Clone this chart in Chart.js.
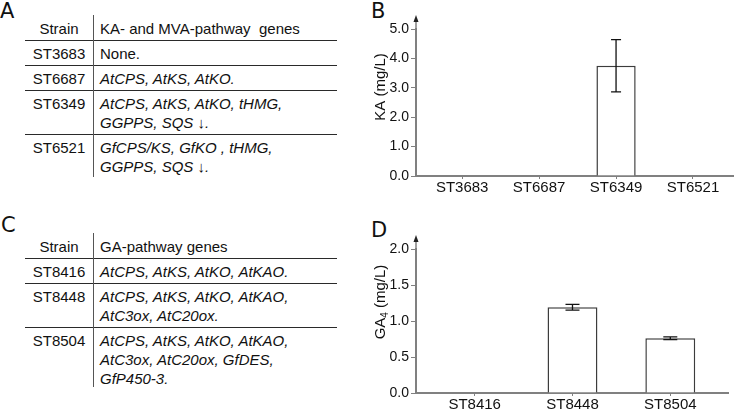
<!DOCTYPE html>
<html>
<head>
<meta charset="utf-8">
<script src="https://cdn.jsdelivr.net/npm/chart.js@4.4.1/dist/chart.umd.min.js"></script>
<style>
  html, body { margin: 0; padding: 0; background: #fff; }
  body {
    width: 740px; height: 411px; position: relative; overflow: hidden;
    font-family: "Liberation Sans", Arial, sans-serif; color: #111;
  }
  .panel-letter { position: absolute; font-family: "DejaVu Sans", sans-serif; font-size: 21px; line-height: 1; }
  .gene-table { position: absolute; left: 25px; width: 312px; font-size: 15px; line-height: 19px; }
  .gene-table .row { display: flex; box-sizing: border-box; border-top: 1px solid #2a2a2a; }
  .gene-table .row.head { border-top: none; }
  .gene-table .strain { width: 68px; flex: none; text-align: center; padding-top: 3px; }
  .gene-table .genes { padding-left: 7px; padding-top: 3px; font-style: italic; white-space: nowrap; }
  .gene-table .head .strain, .gene-table .head .genes { padding-top: 4px; font-style: normal; }
  .gene-table .plain { font-style: normal; }
  .gene-table .divider { position: absolute; left: 68px; top: 0; width: 1px; background: #555; }
  .chart-box { position: absolute; left: 370px; width: 370px; }
</style>
</head>
<body>
<div class="panel-letter" style="left:0px;top:1px">A</div>
<div class="panel-letter" style="left:371px;top:1px">B</div>
<div class="panel-letter" style="left:1px;top:215px">C</div>
<div class="panel-letter" style="left:371px;top:220px">D</div>

<div id="tableA" class="gene-table" style="top:15px"></div>
<div id="tableC" class="gene-table" style="top:233px"></div>

<div class="chart-box" style="top:0px;height:205px"><canvas id="chartB" width="370" height="205"></canvas></div>
<div class="chart-box" style="top:205px;height:206px"><canvas id="chartD" width="370" height="206"></canvas></div>

<script>
// --- panels A and C: strains and their genes ---
const kaStrains = ["ST3683", "ST6687", "ST6349", "ST6521"];
const kaHeader = ["Strain", "KA- and MVA-pathway\u00a0 genes"];
const kaGenes = [
  ["None."],
  ["AtCPS, AtKS, AtKO."],
  ["AtCPS, AtKS, AtKO, tHMG,", "GGPPS, SQS \u2193."],
  ["GfCPS/KS, GfKO , tHMG,", "GGPPS, SQS \u2193."],
];

const gaStrains = ["ST8416", "ST8448", "ST8504"];
const gaHeader = ["Strain", "GA-pathway genes"];
const gaGenes = [
  ["AtCPS, AtKS, AtKO, AtKAO."],
  ["AtCPS, AtKS, AtKO, AtKAO,", "AtC3ox, AtC20ox."],
  ["AtCPS, AtKS, AtKO, AtKAO,", "AtC3ox, AtC20ox, GfDES,", "GfP450-3."],
];

// --- panels B and D: titres (mg/L) with +/- error ---
const kaValues = [0, 0, 3.75, 0];
const kaErrors = [0, 0, 0.89, 0];
const kaYTicks = [0, 1, 2, 3, 4, 5];

const gaValues = [0, 1.19, 0.76];
const gaErrors = [0, 0.04, 0.02];
const gaYTicks = [0, 0.5, 1, 1.5, 2];

// [text, isSubscript]
const kaTitle = [["KA (mg/L)", false]];
const gaTitle = [["GA", false], ["4", true], [" (mg/L)", false]];

const AXIS_GRAY = "#808080";
const FONT = "'Liberation Sans', Arial, sans-serif";

function renderLine(line) {
  if (line === "None.") return `<span class="plain">${line}</span>`;
  return line.replace("\u2193", '<span class="plain">\u2193</span>');
}

function buildTable(el, header, strains, genes, dividerHeight) {
  let html = `<div class="row head" style="height:25px"><div class="strain">${header[0]}</div><div class="genes">${header[1]}</div></div>`;
  strains.forEach((strain, i) => {
    const lines = genes[i];
    const height = 6 + 19 * lines.length;
    html += `<div class="row" style="height:${height}px"><div class="strain">${strain}</div><div class="genes">${lines.map(renderLine).join("<br>")}</div></div>`;
  });
  html += `<div class="divider" style="height:${dividerHeight}px"></div>`;
  el.innerHTML = html;
}

buildTable(document.getElementById("tableA"), kaHeader, kaStrains, kaGenes, 162);
buildTable(document.getElementById("tableC"), gaHeader, gaStrains, gaGenes, 154);

// error bars drawn over each bar
function errorBars(errors, cap) {
  return {
    id: "errorBars",
    afterDatasetsDraw(chart) {
      const { ctx } = chart;
      const y = chart.scales.y;
      const meta = chart.getDatasetMeta(0);
      const data = chart.data.datasets[0].data;
      ctx.save();
      ctx.strokeStyle = "#111";
      ctx.lineWidth = 1.3;
      errors.forEach((err, i) => {
        if (!err) return;
        const x = meta.data[i].x;
        const top = y.getPixelForValue(data[i].y + err);
        const bottom = y.getPixelForValue(data[i].y - err);
        ctx.beginPath();
        ctx.moveTo(x, top);
        ctx.lineTo(x, bottom);
        ctx.moveTo(x - cap / 2, top);
        ctx.lineTo(x + cap / 2, top);
        ctx.moveTo(x - cap / 2, bottom);
        ctx.lineTo(x + cap / 2, bottom);
        ctx.stroke();
      });
      ctx.restore();
    },
  };
}

// arrow on top of the y axis + rotated y title (supports a subscript part)
function axisDecor(titleParts, titleX, titleY) {
  return {
    id: "axisDecor",
    afterDraw(chart) {
      const { ctx, chartArea } = chart;
      const x = chartArea.left;
      const tip = chartArea.top - 14;
      ctx.save();
      ctx.strokeStyle = AXIS_GRAY;
      ctx.lineWidth = 1.5;
      ctx.beginPath();
      ctx.moveTo(x, chartArea.top);
      ctx.lineTo(x, tip + 4);
      ctx.stroke();
      ctx.fillStyle = "#222";
      ctx.beginPath();
      ctx.moveTo(x, tip);
      ctx.lineTo(x - 2.5, tip + 7);
      ctx.lineTo(x + 2.5, tip + 7);
      ctx.closePath();
      ctx.fill();

      ctx.translate(titleX, titleY);
      ctx.rotate(-Math.PI / 2);
      ctx.fillStyle = "#111";
      ctx.textBaseline = "middle";
      const fontFor = (sub) => `${sub ? 10 : 15}px ${FONT}`;
      let total = 0;
      titleParts.forEach(([text, sub]) => {
        ctx.font = fontFor(sub);
        total += ctx.measureText(text).width;
      });
      let cx = -total / 2;
      titleParts.forEach(([text, sub]) => {
        ctx.font = fontFor(sub);
        ctx.fillText(text, cx, sub ? 4 : 0);
        cx += ctx.measureText(text).width;
      });
      ctx.restore();
    },
  };
}

function createBarChart(canvas, { labels, values, errors, yTicks, xMax, yMax, cap, title, titleX, titleY, padTop, padRight, xHeight }) {
  return new Chart(canvas, {
    type: "bar",
    data: {
      datasets: [{
        data: values.map((v, i) => ({ x: i, y: v })),
        backgroundColor: "#fff",
        borderColor: "#3c3c3c",
        borderWidth: 1.5,
        categoryPercentage: 1,
        barPercentage: 0.51,
      }],
    },
    options: {
      responsive: false,
      animation: false,
      layout: { padding: { top: padTop, right: padRight, left: 0, bottom: 0 } },
      plugins: { legend: { display: false }, tooltip: { enabled: false } },
      scales: {
        x: {
          // linear so the first bar sits a little away from the y axis, as in the figure
          type: "linear",
          min: -0.6,
          max: xMax,
          offset: false,
          afterBuildTicks: (scale) => { scale.ticks = labels.map((_, i) => ({ value: i })); },
          afterFit: (scale) => { scale.height = xHeight; },
          grid: { drawOnChartArea: false, tickLength: 3, color: AXIS_GRAY, offset: false },
          border: { display: true, color: AXIS_GRAY, width: 2 },
          ticks: {
            padding: 0,
            color: "#111",
            font: { family: FONT, size: 15 },
            callback: (value) => labels[value] ?? "",
          },
        },
        y: {
          min: 0,
          max: yMax,
          afterBuildTicks: (scale) => { scale.ticks = yTicks.map((v) => ({ value: v })); },
          afterFit: (scale) => { scale.width = 46; },
          grid: { drawOnChartArea: false, tickLength: 5, color: AXIS_GRAY },
          border: { display: true, color: AXIS_GRAY, width: 2 },
          ticks: {
            padding: 2,
            color: "#111",
            font: { family: FONT, size: 14 },
            callback: (value) => Number(value).toFixed(1),
          },
        },
      },
    },
    plugins: [errorBars(errors, cap), axisDecor(title, titleX, titleY)],
  });
}

createBarChart(document.getElementById("chartB"), {
  labels: kaStrains, values: kaValues, errors: kaErrors, yTicks: kaYTicks,
  xMax: 3.52, yMax: 5, cap: 10, title: kaTitle, titleX: 11, titleY: 87,
  padTop: 29, padRight: 7, xHeight: 29,
});

createBarChart(document.getElementById("chartD"), {
  labels: gaStrains, values: gaValues, errors: gaErrors, yTicks: gaYTicks,
  xMax: 2.59, yMax: 2, cap: 14, title: gaTitle, titleX: 11, titleY: 97,
  padTop: 44, padRight: 12, xHeight: 18,
});
</script>
</body>
</html>
